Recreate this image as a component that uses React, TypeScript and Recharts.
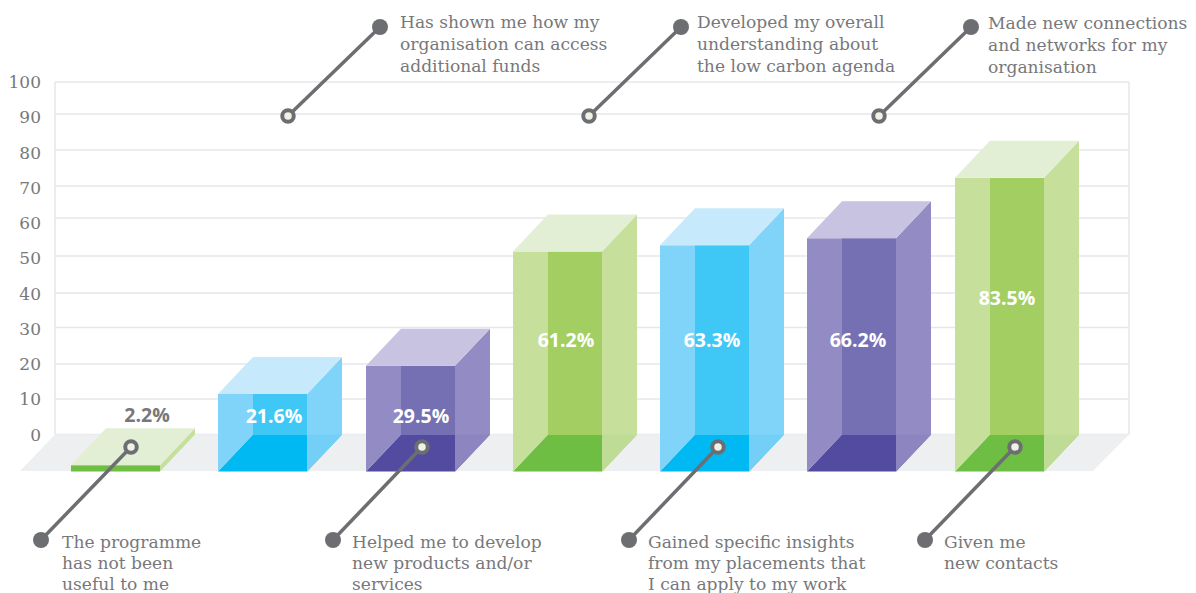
import { BarChart, Bar, XAxis, YAxis, CartesianGrid, Customized } from "recharts"

// what the respondents said, left to right
const categories = [
  "The programme has not been useful to me",
  "Has shown me how my organisation can access additional funds",
  "Helped me to develop new products and/or services",
  "Developed my overall understanding about the low carbon agenda",
  "Gained specific insights from my placements that I can apply to my work",
  "Made new connections and networks for my organisation",
  "Given me new contacts",
]
// bar heights as they read against the axis (the picture is not quite true to its labels)
const axisValues = [1.8, 22, 30, 62.4, 64.2, 66.2, 83.3]
const percentLabels = ["2.2%", "21.6%", "29.5%", "61.2%", "63.3%", "66.2%", "83.5%"]
const yTicks = [0, 10, 20, 30, 40, 50, 60, 70, 80, 90, 100]

const chartData = categories.map((name, i) => ({ name, value: axisValues[i], label: percentLabels[i] }))

// layout below here, not data
const DX = -35
const DY = 37
const MUTED = "#77787b"
const LINE = "#6d6e71"
const SLAB = "'DejaVu Serif', serif"

// the gridlines in the picture are hand placed and a little uneven
const gridYs = [82, 114, 150, 186, 218, 256, 293, 327.5, 364, 399, 434.5]

const green = { top: "#e2efd5", side: "#c6e09c", low: "#bfdc97", mid: "#a3cf62", floor: "#6fbe44" }
const blue = { top: "#c6e9fb", side: "#80d4f9", low: "#73cff6", mid: "#3fc8f6", floor: "#00b9f2" }
const purple = { top: "#c7c3e1", side: "#938bc3", low: "#8c85bf", mid: "#756fb3", floor: "#524ba0" }
const palette = [green, blue, purple, green, blue, purple, green]

const valueLabelPos = [
  { x: 147, y: 422, fill: MUTED },
  { x: 274, y: 423, fill: "#fff" },
  { x: 421, y: 423, fill: "#fff" },
  { x: 566, y: 347, fill: "#fff" },
  { x: 712, y: 347, fill: "#fff" },
  { x: 858, y: 347, fill: "#fff" },
  { x: 1007, y: 305, fill: "#fff" },
]

const callouts = [
  { from: [41, 540], to: [131, 447], x: 62, y: 548, lines: ["The programme", "has not been", "useful to me"] },
  { from: [333, 540], to: [422, 447], x: 352, y: 548, lines: ["Helped me to develop", "new products and/or", "services"] },
  { from: [629, 540], to: [718, 447], x: 648, y: 548, lines: ["Gained specific insights", "from my placements that", "I can apply to my work"] },
  { from: [925, 540], to: [1015, 447], x: 944, y: 548, lines: ["Given me", "new contacts"] },
  { from: [380, 27], to: [288, 116], x: 400, y: 28, lines: ["Has shown me how my", "organisation can access", "additional funds"] },
  { from: [681, 27], to: [589, 116], x: 697, y: 28, lines: ["Developed my overall", "understanding about", "the low carbon agenda"] },
  { from: [971, 27], to: [879, 116], x: 988, y: 29, lines: ["Made new connections", "and networks for my", "organisation"] },
]

const pts = (list: number[][]) => list.map((p) => p.join(",")).join(" ")

function Cuboid(props: any) {
  const { y, height, index } = props
  const x = Math.round(props.x)
  const width = Math.round(props.width)
  const c = palette[index]
  const x1 = x + width
  const floorY = y + height
  const base = floorY + DY
  const frontTop = y + DY
  const short = frontTop >= floorY

  return (
    <g>
      {short ? (
        <rect x={x + DX} y={frontTop} width={width} height={base - frontTop} fill={c.floor} />
      ) : (
        <>
          <polygon points={pts([[x + DX, base], [x, floorY], [x1, floorY], [x1 + DX, base]])} fill={c.floor} />
          <rect x={x - 0.5} y={frontTop} width={width + DX + 1} height={floorY - frontTop + 0.5} fill={c.mid} />
          <polygon points={pts([[x + DX, frontTop], [x, frontTop], [x, floorY], [x + DX, base]])} fill={c.side} />
        </>
      )}
      <polygon points={pts([[x1 + DX, frontTop], [x1, y], [x1, floorY], [x1 + DX, base]])} fill={c.side} />
      {!short && <polygon points={pts([[x1 + DX, floorY], [x1, floorY], [x1 + DX, base]])} fill={c.low} />}
      <polygon points={pts([[x + DX, frontTop], [x, y], [x1, y], [x1 + DX, frontTop]])} fill={c.top} />
    </g>
  )
}

function Floor() {
  return <polygon points={pts([[55, 434.5], [1129, 434.5], [1093, 471], [20, 471]])} fill="#eeeff1" />
}

// value labels and callouts sit above the bars, so they get their own svg
function Overlay() {
  return (
    <svg width={1196} height={593} style={{ position: "absolute", left: 0, top: 0 }}>
      {percentLabels.map((label, i) => (
        <text
          key={label}
          x={valueLabelPos[i].x}
          y={valueLabelPos[i].y}
          textAnchor="middle"
          fontFamily="'Open Sans', sans-serif"
          fontWeight={700}
          fontSize={19.5}
          fill={valueLabelPos[i].fill}
        >
          {label}
        </text>
      ))}
      {callouts.map((c) => (
        <g key={c.x}>
          <line x1={c.from[0]} y1={c.from[1]} x2={c.to[0]} y2={c.to[1]} stroke={LINE} strokeWidth={3.5} />
          <circle cx={c.from[0]} cy={c.from[1]} r={8} fill={LINE} />
          <circle cx={c.to[0]} cy={c.to[1]} r={5.75} fill="#eef3e6" stroke={LINE} strokeWidth={4} />
          <text fontFamily={SLAB} fontSize={17.1} fill={MUTED}>
            {c.lines.map((line, i) => (
              <tspan key={line} x={c.x} y={c.y + i * (c.y > 300 ? 20.8 : 22.1)}>
                {line}
              </tspan>
            ))}
          </text>
        </g>
      ))}
    </svg>
  )
}

export default function App() {
  return (
    <div style={{ position: "absolute", left: 0, top: 0, width: 1196, height: 593, overflow: "hidden", background: "#fff" }}>
      <BarChart
        width={1196}
        height={593}
        data={chartData}
        margin={{ top: 82, right: 67, bottom: 158.5, left: 0 }}
        barSize={89}
      >
        <CartesianGrid stroke="#e6e7e8" strokeWidth={1.5} horizontalPoints={gridYs} verticalPoints={[55, 1129]} />
        <XAxis dataKey="name" hide padding={{ left: 22, right: 21 }} />
        <YAxis
          width={55}
          domain={[0, 100]}
          ticks={yTicks}
          axisLine={false}
          tickLine={false}
          tickMargin={8}
          tick={{ fontFamily: SLAB, fontSize: 17, fill: MUTED }}
          interval={0}
        />
        <Customized component={Floor} />
        <Bar dataKey="value" shape={Cuboid} isAnimationActive={false} />
      </BarChart>
      <Overlay />
    </div>
  )
}
